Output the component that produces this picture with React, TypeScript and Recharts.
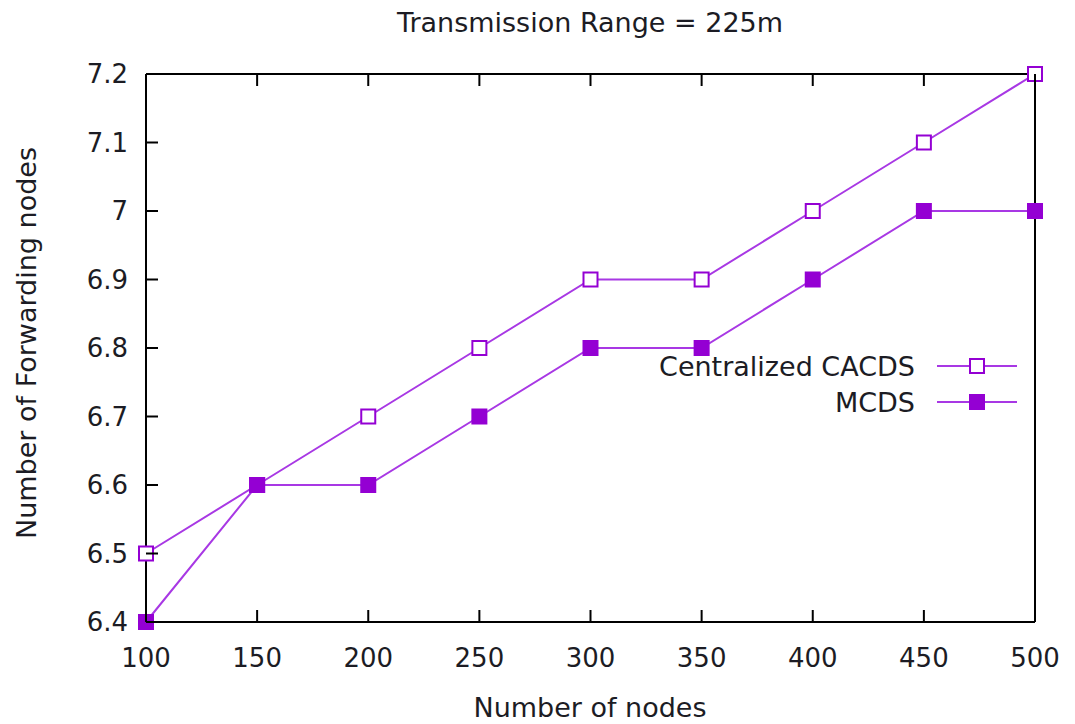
import { LineChart, Line, XAxis, YAxis } from 'recharts';

const nodes = [100, 150, 200, 250, 300, 350, 400, 450, 500];
const cacds = [6.5, 6.6, 6.7, 6.8, 6.9, 6.9, 7.0, 7.1, 7.2];
const mcds = [6.4, 6.6, 6.6, 6.7, 6.8, 6.8, 6.9, 7.0, 7.0];
const yTicks = [6.4, 6.5, 6.6, 6.7, 6.8, 6.9, 7.0, 7.1, 7.2];
const seriesNames = ['Centralized CACDS', 'MCDS'];

const data = nodes.map((n, i) => ({ n, cacds: cacds[i], mcds: mcds[i] }));

const FONT = '"DejaVu Sans", Verdana, sans-serif';
const LINE = '#a838e4';
const MARK = '#9400d3';
const TEXT = '#1c1c24';
const TICK_LEN = 12;

const fmt = (v: number) => String(Number(v.toFixed(1)));

const OpenSquare = (props: any) => {
  const { cx, cy, index } = props;
  if (cx == null || cy == null) return <g key={index} />;
  return <rect key={index} x={cx - 7} y={cy - 7} width={14} height={14} fill="#fff" stroke={MARK} strokeWidth={2} />;
};

const FilledSquare = (props: any) => {
  const { cx, cy, index } = props;
  if (cx == null || cy == null) return <g key={index} />;
  return <rect key={index} x={cx - 8} y={cy - 8} width={16} height={16} fill={MARK} />;
};

// gnuplot-style ticks: drawn inward from the axis line
const BottomTick = ({ x, y, payload }: any) => (
  <g>
    <line x1={x} x2={x} y1={y} y2={y - TICK_LEN} stroke="#000" strokeWidth={2} />
    <text x={x} y={y + 45} textAnchor="middle" fontSize={26} fill={TEXT} fontFamily={FONT}>
      {payload.value}
    </text>
  </g>
);

const TopTick = ({ x, y }: any) => (
  <line x1={x} x2={x} y1={y} y2={y + TICK_LEN} stroke="#000" strokeWidth={2} />
);

const LeftTick = ({ x, y, payload }: any) => (
  <g>
    <line x1={x} x2={x + TICK_LEN} y1={y} y2={y} stroke="#000" strokeWidth={2} />
    <text x={x - 18} y={y + 9} textAnchor="end" fontSize={26} fill={TEXT} fontFamily={FONT}>
      {fmt(payload.value)}
    </text>
  </g>
);

const RightTick = ({ x, y }: any) => (
  <line x1={x} x2={x - TICK_LEN} y1={y} y2={y} stroke="#000" strokeWidth={2} />
);

const axisStyle = { stroke: '#000', strokeWidth: 2 };

export default function App() {
  return (
    <div style={{ position: 'absolute', left: 0, top: 0, width: 1075, height: 724, background: '#fff', fontFamily: FONT }}>
      <LineChart width={1075} height={724} data={data} margin={{ top: 73, right: 39, bottom: 0, left: 0 }}>
        <XAxis
          dataKey="n"
          type="number"
          domain={[100, 500]}
          ticks={nodes}
          height={102}
          axisLine={axisStyle}
          tickLine={false}
          tickSize={0}
          tickMargin={0}
          tick={BottomTick}
        />
        <XAxis
          xAxisId="top"
          orientation="top"
          dataKey="n"
          type="number"
          domain={[100, 500]}
          ticks={nodes}
          height={1}
          axisLine={axisStyle}
          tickLine={false}
          tickSize={0}
          tickMargin={0}
          tick={TopTick}
        />
        <YAxis
          type="number"
          domain={[6.4, 7.2]}
          ticks={yTicks}
          width={146}
          axisLine={axisStyle}
          tickLine={false}
          tickSize={0}
          tickMargin={0}
          tick={LeftTick}
        />
        <YAxis
          yAxisId="right"
          orientation="right"
          type="number"
          domain={[6.4, 7.2]}
          ticks={yTicks}
          width={1}
          axisLine={axisStyle}
          tickLine={false}
          tickSize={0}
          tickMargin={0}
          tick={RightTick}
        />
        <Line dataKey="cacds" name={seriesNames[0]} stroke={LINE} strokeWidth={2} dot={OpenSquare} isAnimationActive={false} />
        <Line dataKey="mcds" name={seriesNames[1]} stroke={LINE} strokeWidth={2} dot={FilledSquare} isAnimationActive={false} />
      </LineChart>

      {/* overlay: title, axis titles, legend */}
      <svg width={1075} height={724} style={{ position: 'absolute', left: 0, top: 0, pointerEvents: 'none' }}>
        <text x={590} y={32} textAnchor="middle" fontSize={27} fill={TEXT} fontFamily={FONT}>
          Transmission Range = 225m
        </text>
        <text x={590} y={717} textAnchor="middle" fontSize={27} fill={TEXT} fontFamily={FONT}>
          Number of nodes
        </text>
        <text x={36} y={343} textAnchor="middle" fontSize={27} fill={TEXT} fontFamily={FONT} transform="rotate(-90 36 343)">
          Number of Forwarding nodes
        </text>
        {seriesNames.map((name, i) => {
          const y = 366 + i * 36;
          return (
            <g key={name}>
              <text x={915} y={y + 10} textAnchor="end" fontSize={27} fill={TEXT} fontFamily={FONT}>
                {name}
              </text>
              <line x1={937} x2={1017} y1={y} y2={y} stroke={LINE} strokeWidth={2} />
              {i === 0 ? (
                <rect x={970} y={y - 7} width={14} height={14} fill="#fff" stroke={MARK} strokeWidth={2} />
              ) : (
                <rect x={969} y={y - 8} width={16} height={16} fill={MARK} />
              )}
            </g>
          );
        })}
      </svg>
    </div>
  );
}
